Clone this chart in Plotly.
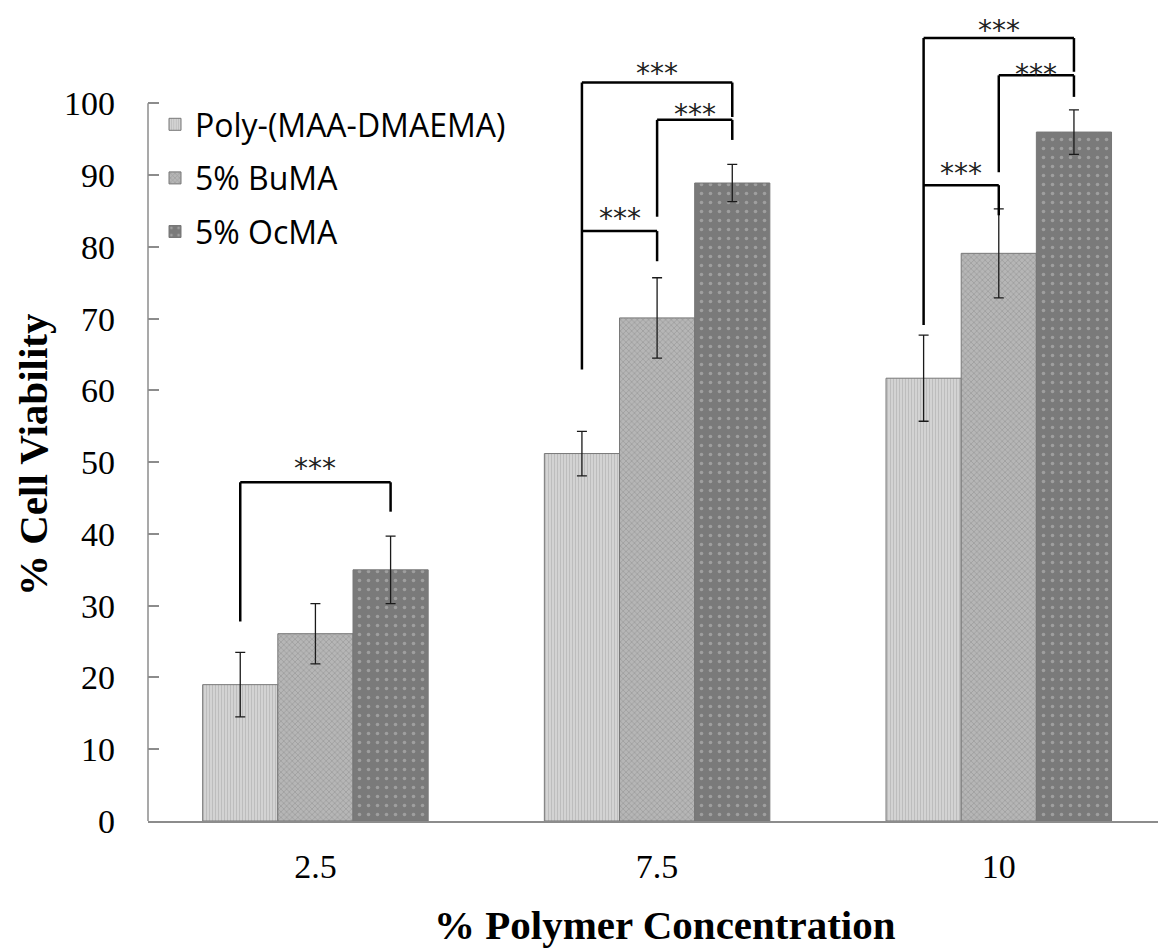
import plotly.graph_objects as go

# ---------------- data ----------------
categories = ["2.5", "7.5", "10"]
series_names = ["Poly-(MAA-DMAEMA)", "5% BuMA", "5% OcMA"]
poly_vals = [19.0, 51.2, 61.7]
poly_err = [4.5, 3.1, 6.0]
buma_vals = [26.1, 70.1, 79.1]
buma_err = [4.2, 5.6, 6.2]
ocma_vals = [35.0, 88.9, 96.0]
ocma_err = [4.7, 2.6, 3.1]
y_ticks = [0, 10, 20, 30, 40, 50, 60, 70, 80, 90, 100]

# significance brackets: group index, left bar, right bar, bar level, left foot, right foot, star level
brackets = [
    (0, 0, 2, 47.2, 27.8, 43.1, 50.3),
    (1, 0, 2, 102.9, 62.9, 98.1, 105.3),
    (1, 1, 2, 97.7, 84.2, 94.9, 99.6),
    (1, 0, 1, 82.2, 82.2, 78.0, 85.1),
    (2, 0, 2, 109.1, 69.1, 104.4, 111.3),
    (2, 1, 2, 103.9, 90.4, 100.9, 105.2),
    (2, 0, 1, 88.6, 88.6, 84.4, 91.3),
]
sig_label = "***"

# ---------------- styling ----------------
BARGAP = 0.34
styles = [
    dict(color="#cccccc", pattern=dict(shape="|", size=3, solidity=0.35, fgcolor="#a8a8a8", bgcolor="#d3d3d3")),
    dict(color="#a8a8a8", pattern=dict(shape="x", size=4, solidity=0.35, fgcolor="#838383", bgcolor="#b6b6b6")),
    dict(color="#7f7f7f", pattern=dict(shape=".", size=9, solidity=0.12, fgcolor="#c4c4c4", bgcolor="#7a7a7a")),
]
values = [poly_vals, buma_vals, ocma_vals]
errors = [poly_err, buma_err, ocma_err]

fig = go.Figure()
for i, name in enumerate(series_names):
    fig.add_trace(go.Bar(
        x=categories, y=values[i], name=name, legendgroup=name,
        marker=dict(color=styles[i]["color"], pattern=styles[i]["pattern"],
                    line=dict(color="#777777", width=1)),
        error_y=dict(type="data", array=errors[i], visible=True,
                     color="#1a1a1a", thickness=1.3, width=5),
    ))

bar_w = (1 - BARGAP) / 3
def bar_x(g, j):
    return g + (j - 1) * bar_w

shapes = []
annotations = []
LINE = dict(color="black", width=2.5)
for (g, a, b, lvl, lf, rf, sy) in brackets:
    x1, x2 = bar_x(g, a), bar_x(g, b)
    if lf != lvl:
        shapes.append(dict(type="line", xref="x", yref="y", x0=x1, x1=x1, y0=lf, y1=lvl, line=LINE))
    shapes.append(dict(type="line", xref="x", yref="y", x0=x1, x1=x2, y0=lvl, y1=lvl, line=LINE))
    shapes.append(dict(type="line", xref="x", yref="y", x0=x2, x1=x2, y0=lvl, y1=rf, line=LINE))
    annotations.append(dict(x=(x1 + x2) / 2, y=sy, xref="x", yref="y", text=sig_label,
                            showarrow=False, yanchor="middle", yshift=-8,
                            font=dict(family="DejaVu Sans", size=28, color="#222")))

# y axis line only up to 100
shapes.append(dict(type="line", xref="paper", yref="y", x0=0, x1=0, y0=0, y1=100,
                   line=dict(color="#8c8c8c", width=1.5)))

annotations.append(dict(text="<b>% Polymer Concentration</b>", xref="paper", yref="paper",
                        x=(665 - 148) / 1010, y=-(925 - 821) / 821, xanchor="center", yanchor="middle",
                        showarrow=False, font=dict(family="Liberation Serif", size=41, color="black")))
annotations.append(dict(text="<b>% Cell Viability</b>", xref="paper", yref="paper",
                        x=(33 - 148) / 1010, y=(821 - 455) / 821, xanchor="center", yanchor="middle",
                        textangle=-90, showarrow=False,
                        font=dict(family="Liberation Serif", size=41, color="black")))

fig.update_layout(
    width=1158, height=950,
    margin=dict(l=148, r=0, t=0, b=129),
    paper_bgcolor="white", plot_bgcolor="white",
    barmode="group", bargap=BARGAP, bargroupgap=0,
    showlegend=True,
    legend=dict(x=7 / 1010, y=(821 - 97) / 821, xanchor="left", yanchor="top",
                font=dict(family="Open Sans", size=32, color="black"),
                tracegroupgap=9, bgcolor="rgba(0,0,0,0)"),
    shapes=shapes, annotations=annotations,
)
fig.update_xaxes(range=[-0.49, 2.466], showline=True, linecolor="#8c8c8c", linewidth=2,
                 ticks="", showgrid=False, zeroline=False, ticklabelstandoff=14,
                 tickfont=dict(family="Liberation Serif", size=34, color="black"))
fig.update_yaxes(range=[0, 114.4], tickvals=y_ticks, showline=False, ticks="inside",
                 ticklen=11, tickcolor="#8c8c8c", tickwidth=1.5, showgrid=False, zeroline=False,
                 ticklabelstandoff=32,
                 tickfont=dict(family="Liberation Serif", size=34, color="black"))

fig.write_html("out.html")
